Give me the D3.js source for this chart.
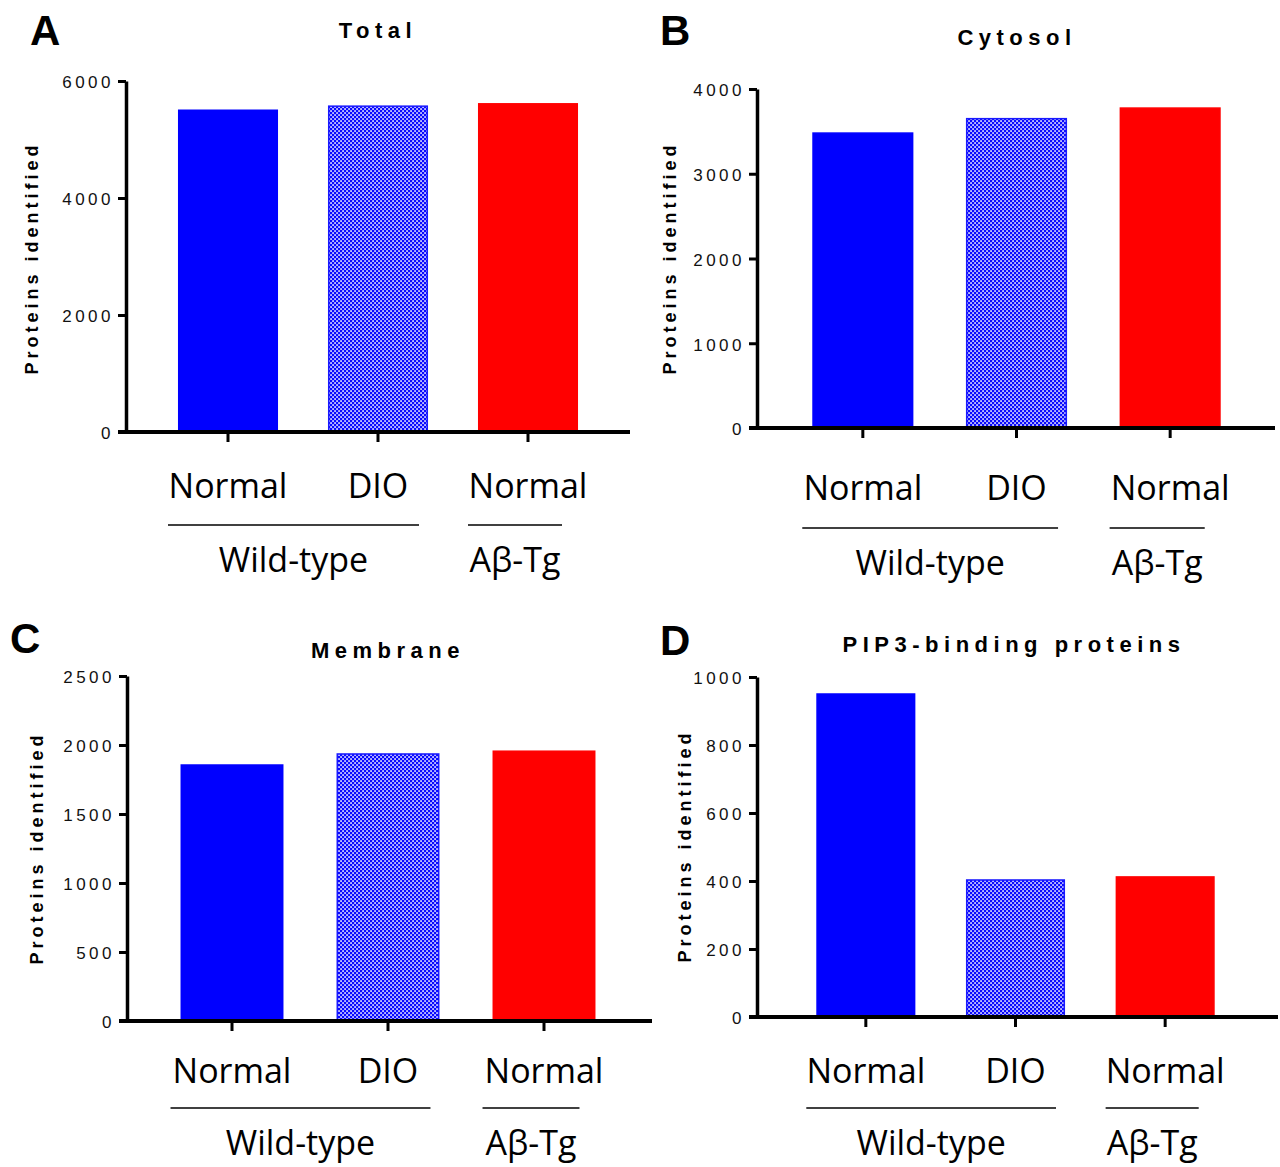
<!DOCTYPE html>
<html>
<head>
<meta charset="utf-8">
<script src="https://cdn.jsdelivr.net/npm/d3@7"></script>
<style>
  body { margin: 0; background: #fff; }
</style>
</head>
<body>
<svg id="fig" width="1280" height="1167"></svg>
<script>
// categories (keys must be unique for the band scale)
var catKeys = ["wtNormal", "wtDIO", "tgNormal"];
var catLabels = ["Normal", "DIO", "Normal"];
var groupNames = ["Wild-type", "Aβ-Tg"];
var groupSpans = [[0, 1], [2, 2]];

var panelLetters = ["A", "B", "C", "D"];
var panelTitles = ["Total", "Cytosol", "Membrane", "PIP3-binding proteins"];

// values
var totalValues = [5500, 5570, 5610];
var cytosolValues = [3480, 3650, 3775];
var membraneValues = [1855, 1935, 1955];
var pip3Values = [950, 403, 412];

var totalTicks = [0, 2000, 4000, 6000];
var cytosolTicks = [0, 1000, 2000, 3000, 4000];
var membraneTicks = [0, 500, 1000, 1500, 2000, 2500];
var pip3Ticks = [0, 200, 400, 600, 800, 1000];

var svg = d3.select("#fig");

// checkerboard fill for the DIO bars
var pat = svg.append("defs").append("pattern")
    .attr("id", "check")
    .attr("patternUnits", "userSpaceOnUse")
    .attr("width", 4).attr("height", 4);
pat.append("rect").attr("width", 4).attr("height", 4).attr("fill", "#0a0aff");
pat.append("rect").attr("x", 0.25).attr("y", 0.25).attr("width", 1.6).attr("height", 1.6).attr("fill", "#fff");
pat.append("rect").attr("x", 2.25).attr("y", 2.25).attr("width", 1.6).attr("height", 1.6).attr("fill", "#fff");

var fills = ["#0000ff", "url(#check)", "#ff0000"];
var strokes = ["#0000ff", "#1a1aff", "#ff0000"];

/* layout of each panel (pixel frame) */
var panels = [
  {values: totalValues, ticks: totalTicks, axisX: 126, top: 81, bottom: 432, xEnd: 630,
   band: [153, 603], pad: 0.333, letterX: 30, letterY: 45, titleX: 378, titleY: 38,
   ylabX: 32, ylabY: 258, labY: 498, lineY: 525, grpY: 572},
  {values: cytosolValues, ticks: cytosolTicks, axisX: 757, top: 89, bottom: 428, xEnd: 1275,
   band: [786, 1247], pad: 0.342, letterX: 660, letterY: 45, titleX: 1017, titleY: 45,
   ylabX: 670, ylabY: 258, labY: 500, lineY: 528, grpY: 575},
  {values: membraneValues, ticks: membraneTicks, axisX: 127, top: 676, bottom: 1021, xEnd: 652,
   band: [154, 622], pad: 0.34, letterX: 10, letterY: 653, titleX: 388, titleY: 658,
   ylabX: 37, ylabY: 848, labY: 1083, lineY: 1108, grpY: 1155},
  {values: pip3Values, ticks: pip3Ticks, axisX: 757, top: 677, bottom: 1017, xEnd: 1278,
   band: [791, 1240], pad: 0.338, letterX: 660, letterY: 655, titleX: 1014, titleY: 652,
   ylabX: 685, ylabY: 846, labY: 1083, lineY: 1108, grpY: 1155}
];

panels.forEach(function(p, i) {
  var g = svg.append("g").attr("class", "panel");

  var x = d3.scaleBand()
      .domain(catKeys)
      .range(p.band)
      .paddingInner(p.pad)
      .paddingOuter(p.pad / 2);

  var y = d3.scaleLinear()
      .domain([0, d3.max(p.ticks)])
      .range([p.bottom, p.top]);

  /* Bars */
  g.selectAll("rect.bar")
    .data(p.values)
    .enter().append("rect")
      .attr("class", "bar")
      .attr("x", function(d, j) { return x(catKeys[j]) + 0.75; })
      .attr("y", function(d) { return y(d); })
      .attr("width", x.bandwidth() - 1.5)
      .attr("height", function(d) { return p.bottom - y(d); })
      .attr("fill", function(d, j) { return fills[j]; })
      .attr("stroke", function(d, j) { return strokes[j]; })
      .attr("stroke-width", 1.5);

  /* Y axis */
  var yAxis = g.append("g")
      .attr("transform", "translate(" + p.axisX + ",0)")
      .call(d3.axisLeft(y).tickValues(p.ticks).tickSize(8).tickSizeOuter(0).tickPadding(4)
        .tickFormat(d3.format("d")));
  yAxis.select(".domain").attr("stroke-width", 3.5).attr("stroke", "#000");
  yAxis.selectAll(".tick line").attr("stroke-width", 3).attr("stroke", "#000");
  yAxis.selectAll(".tick text")
      .attr("fill", "#111")
      .attr("dy", "0.4em")
      .style("font", "17px 'Liberation Sans', Arial, sans-serif")
      .style("letter-spacing", "3.5px");

  /* X axis */
  var xAxis = g.append("g")
      .attr("transform", "translate(0," + p.bottom + ")")
      .call(d3.axisBottom(x).tickSize(10).tickSizeOuter(0).tickFormat(""));
  xAxis.select(".domain").remove();
  xAxis.selectAll(".tick line").attr("stroke-width", 3).attr("stroke", "#000");
  xAxis.append("line")
      .attr("x1", p.axisX - 8).attr("x2", p.xEnd)
      .attr("y1", 0).attr("y2", 0)
      .attr("stroke", "#000").attr("stroke-width", 4);

  /* Category labels */
  g.selectAll("text.cat")
    .data(catLabels)
    .enter().append("text")
      .attr("class", "cat")
      .attr("x", function(d, j) { return x(catKeys[j]) + x.bandwidth() / 2; })
      .attr("y", p.labY)
      .attr("text-anchor", "middle")
      .style("font", "34px 'Open Sans', sans-serif")
      .text(function(d) { return d; });

  /* Group lines + names */
  groupNames.forEach(function(name, k) {
    var x1 = x(catKeys[groupSpans[k][0]]) - 10,
        x2 = x(catKeys[groupSpans[k][1]]) + x.bandwidth() - (k === 0 ? 9 : 16);
    g.append("line")
        .attr("x1", x1).attr("x2", x2)
        .attr("y1", p.lineY).attr("y2", p.lineY)
        .attr("stroke", "#000").attr("stroke-width", 1.5);
    g.append("text")
        .attr("x", (x1 + x2) / 2)
        .attr("y", p.grpY)
        .attr("text-anchor", "middle")
        .style("font", "34px 'Open Sans', sans-serif")
        .text(name);
  });

  /* Y label */
  g.append("text")
      .attr("transform", "translate(" + p.ylabX + "," + p.ylabY + ") rotate(-90)")
      .attr("text-anchor", "middle")
      .attr("dy", "0.35em")
      .style("font", "bold 18px 'Liberation Sans', Arial, sans-serif")
      .style("letter-spacing", "4px")
      .text("Proteins identified");

  /* Title */
  g.append("text")
      .attr("x", p.titleX)
      .attr("y", p.titleY)
      .attr("text-anchor", "middle")
      .style("font", "bold 22px 'Liberation Sans', Arial, sans-serif")
      .style("letter-spacing", "5.5px")
      .text(panelTitles[i]);

  /* Panel letter */
  g.append("text")
      .attr("x", p.letterX)
      .attr("y", p.letterY)
      .style("font", "bold 42px 'Liberation Sans', Arial, sans-serif")
      .text(panelLetters[i]);
});
</script>
</body>
</html>
